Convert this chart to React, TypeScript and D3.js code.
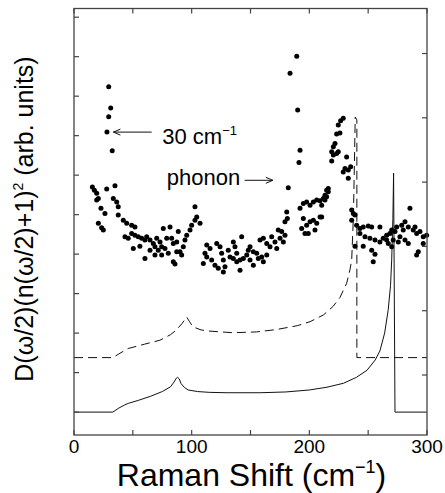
import React, { useEffect, useRef } from 'react';
import * as d3 from 'd3';

// measured spectrum: [Raman shift (cm-1), intensity (arb.)]
const measured: [number, number][] = [
  [29.5, 8.24], [31.2, 7.70], [29.5, 7.48], [28.0, 7.09], [32.5, 6.62],
  [15.6, 5.70], [17.3, 5.62], [19.3, 5.54], [20.7, 5.41], [27.8, 5.65], [34.8, 5.73],
  [19.3, 5.37], [22.9, 5.16], [26.3, 5.03], [20.7, 4.78], [23.5, 4.67], [24.9, 4.61],
  [33.4, 5.41], [36.3, 5.32], [37.6, 5.20], [37.6, 4.99], [41.9, 4.86], [44.8, 4.78],
  [49.0, 4.73], [51.8, 4.69], [43.3, 4.44], [46.1, 4.40], [49.0, 4.52], [51.8, 4.48],
  [54.6, 4.44], [57.5, 4.40], [60.3, 4.36], [61.8, 4.44], [64.6, 4.36], [67.4, 4.27],
  [68.8, 4.19], [70.3, 4.40], [73.1, 4.31], [71.6, 4.10], [74.5, 4.19], [77.3, 4.14],
  [75.9, 4.65], [81.6, 4.69], [78.8, 4.40], [83.0, 4.40], [84.4, 4.27], [87.3, 4.31],
  [88.6, 4.57], [90.1, 4.06], [91.5, 3.98], [92.9, 4.19], [94.3, 4.36], [95.8, 4.48],
  [98.6, 4.61], [100.0, 4.73], [102.8, 4.86], [104.3, 4.94], [102.8, 5.20], [107.1, 4.78],
  [50.4, 4.14], [60.3, 3.89], [84.4, 3.81], [68.8, 3.98], [64.6, 4.10], [74.5, 3.98],
  [80.1, 4.02], [87.3, 4.06], [85.8, 3.75], [56.0, 4.20],
  [112.8, 4.23], [111.3, 4.02], [109.9, 3.76], [115.6, 4.14], [112.8, 3.93], [117.0, 3.85],
  [119.8, 3.72], [122.6, 3.64], [121.3, 4.27], [124.1, 4.19], [125.5, 4.02], [126.9, 3.85],
  [128.3, 3.68], [131.1, 4.10], [132.6, 3.93], [135.4, 4.31], [136.8, 4.19], [138.3, 4.02],
  [141.1, 3.85], [143.9, 3.89], [142.5, 4.44], [146.8, 3.98], [148.1, 4.10], [149.6, 4.19],
  [152.4, 4.06], [155.3, 4.02], [156.6, 3.89], [159.5, 3.93], [160.9, 3.81], [158.1, 4.36],
  [160.9, 4.40], [163.8, 4.27], [166.6, 4.19], [168.0, 4.44], [170.8, 4.31], [172.3, 4.14],
  [175.1, 4.40], [176.5, 4.57], [173.6, 4.61], [177.9, 4.31], [179.3, 4.48], [152.4, 3.72],
  [149.6, 3.85], [138.3, 3.81], [135.4, 3.89], [163.8, 3.98], [126.9, 3.55], [141.1, 3.59],
  [189.3, 9.01], [183.6, 8.58], [190.1, 7.65], [192.1, 6.63], [191.2, 6.32], [182.1, 5.68],
  [180.8, 5.07], [179.3, 4.82], [181.3, 4.90],
  [192.1, 5.16], [194.9, 5.28], [197.7, 5.32], [200.6, 5.24], [203.4, 5.32], [206.3, 5.37],
  [209.1, 5.35], [211.9, 5.41], [213.3, 5.49], [214.7, 5.62], [216.1, 5.66], [194.9, 4.90],
  [193.5, 4.65], [197.7, 4.73], [200.6, 4.82], [203.4, 4.86], [206.3, 4.78], [209.1, 4.94],
  [199.1, 4.52], [204.8, 4.61], [196.3, 4.52],
  [228.8, 7.44], [226.6, 7.38], [224.6, 7.27], [226.0, 7.07], [223.2, 7.04], [221.8, 6.80],
  [220.4, 6.72], [219.0, 6.59], [220.4, 6.51], [219.0, 6.36], [223.2, 6.55], [224.6, 6.59],
  [231.7, 6.46], [230.3, 6.17], [228.8, 6.08], [233.1, 6.13], [233.1, 5.92], [235.1, 6.21],
  [216.1, 5.58], [214.7, 5.45], [213.3, 5.37], [210.5, 5.24], [210.5, 4.94],
  [236.0, 5.12], [237.4, 5.03], [236.0, 4.86], [238.8, 4.99], [240.2, 4.73], [238.8, 4.20],
  [243.0, 4.65], [245.8, 4.69], [250.1, 4.71], [253.0, 4.69], [260.0, 4.69], [243.0, 4.52],
  [247.3, 4.44], [251.5, 4.40], [255.8, 4.36], [260.0, 4.31], [262.8, 4.40], [265.7, 4.48],
  [268.5, 4.52], [270.0, 4.61], [272.8, 4.57], [274.2, 4.69], [278.5, 4.73], [279.8, 4.61],
  [284.1, 4.69], [285.5, 5.16], [288.3, 4.61], [291.2, 4.52], [294.0, 4.57], [296.8, 4.44],
  [299.7, 4.48], [296.8, 4.27], [292.6, 4.06], [291.2, 3.98], [277.0, 4.44], [281.3, 4.36],
  [284.1, 4.27], [267.1, 4.27], [270.0, 4.19], [245.8, 4.20], [253.0, 4.10], [255.8, 4.00],
  [254.3, 3.81], [265.7, 4.36], [271.3, 4.36], [275.6, 4.31], [281.3, 4.82], [289.8, 4.69],
];

// calculated curves (solid and dashed)
const theorySolid: [number, number][] = [
  [0, 0], [33, 0], [38, 0.1], [43, 0.18], [46, 0.22], [55, 0.3], [65, 0.4], [75, 0.52],
  [82, 0.64], [85, 0.76], [87, 0.86], [88, 0.88], [89.5, 0.84], [91, 0.72], [94, 0.62],
  [97, 0.56], [105, 0.52], [115, 0.5], [130, 0.49], [158, 0.49], [180, 0.51], [200, 0.56],
  [215, 0.63], [229, 0.73], [240, 0.88], [249, 1.06], [256, 1.32], [260, 1.55],
  [264, 2.0], [267, 2.58], [269, 3.2], [270, 3.85], [271, 4.9], [271.6, 6.05],
  [272.8, 0], [300, 0],
];

const theoryDashed: [number, number][] = [
  [0, 1.38], [33, 1.38], [38, 1.47], [43, 1.56], [46, 1.61], [60, 1.72], [73, 1.82],
  [82, 1.96], [87, 2.08], [92, 2.25], [95.7, 2.41], [98, 2.3], [101, 2.16], [108, 2.08],
  [115.6, 2.05], [135, 2.01], [155, 2.03], [172, 2.09], [190, 2.19], [200.6, 2.29],
  [212, 2.46], [220, 2.67], [226, 2.9], [231.7, 3.26], [234.5, 3.6], [236, 3.85],
  [237.5, 5.0], [238.3, 6.3], [239, 7.47], [240.4, 7.4], [240.4, 1.38], [300, 1.38],
];

const xTicks = [0, 50, 100, 150, 200, 250, 300];
const xTickLabels = [0, 100, 200, 300];
const leftTicks = [0, 1, 2, 3, 4, 5, 6, 7, 8, 9, 10];
const rightTicks = [1, 2, 3, 4, 5, 6];

const App = () => {
  const svgRef = useRef<SVGSVGElement>(null);

  useEffect(() => {
    const svg = d3.select(svgRef.current);
    svg.selectAll('*').remove();

    const left = 74, right = 427, top = 8.5, bottom = 435;
    const font = "'Liberation Sans', Arial, Helvetica, sans-serif";

    const x = d3.scaleLinear().domain([0, 300]).range([left, right]);
    const y = d3.scaleLinear().domain([-0.58, 10.22]).range([bottom, top]);
    const yRight = d3.scaleLinear().domain([0.067, 6.7]).range([bottom, top]);

    const line = d3.line<[number, number]>()
      .x(d => x(d[0]))
      .y(d => y(d[1]));

    // theory curves
    svg.append('path')
      .datum(theorySolid)
      .attr('d', line)
      .attr('fill', 'none')
      .attr('stroke', '#111')
      .attr('stroke-width', 1);

    svg.append('path')
      .datum(theoryDashed)
      .attr('d', line)
      .attr('fill', 'none')
      .attr('stroke', '#111')
      .attr('stroke-width', 1)
      .attr('stroke-dasharray', '9,5');

    // data points
    svg.append('g')
      .selectAll('circle')
      .data(measured)
      .enter()
      .append('circle')
      .attr('cx', d => x(d[0]))
      .attr('cy', d => y(d[1]))
      .attr('r', 2.5)
      .attr('fill', '#000');

    // frame
    svg.append('rect')
      .attr('x', left)
      .attr('y', top)
      .attr('width', right - left)
      .attr('height', bottom - top)
      .attr('fill', 'none')
      .attr('stroke', '#444')
      .attr('stroke-width', 1.3);

    const tickLen = 5;
    xTicks.forEach(t => {
      svg.append('line')
        .attr('x1', x(t)).attr('x2', x(t))
        .attr('y1', bottom).attr('y2', bottom - tickLen)
        .attr('stroke', '#444').attr('stroke-width', 1.2);
      svg.append('line')
        .attr('x1', x(t)).attr('x2', x(t))
        .attr('y1', top).attr('y2', top + tickLen)
        .attr('stroke', '#444').attr('stroke-width', 1.2);
    });
    leftTicks.forEach(t => {
      svg.append('line')
        .attr('x1', left).attr('x2', left + tickLen)
        .attr('y1', y(t)).attr('y2', y(t))
        .attr('stroke', '#444').attr('stroke-width', 1.2);
    });
    rightTicks.forEach(t => {
      svg.append('line')
        .attr('x1', right).attr('x2', right - tickLen)
        .attr('y1', yRight(t)).attr('y2', yRight(t))
        .attr('stroke', '#444').attr('stroke-width', 1.2);
    });

    xTickLabels.forEach(t => {
      svg.append('text')
        .attr('x', x(t))
        .attr('y', 453)
        .attr('text-anchor', 'middle')
        .style('font-family', font)
        .style('font-size', '19px')
        .text(t);
    });

    // x axis title
    const xt = svg.append('text')
      .attr('x', (left + right) / 2 + 1)
      .attr('y', 486)
      .attr('text-anchor', 'middle')
      .style('font-family', font)
      .style('font-size', '32px');
    xt.append('tspan').text('Raman Shift (cm');
    xt.append('tspan').attr('dy', -13).style('font-size', '18px').text('\u22121');
    xt.append('tspan').attr('dy', 13).text(')');

    // y axis title
    const yt = svg.append('text')
      .attr('transform', `translate(33, 219) rotate(-90)`)
      .attr('text-anchor', 'middle')
      .style('font-family', font)
      .style('font-size', '25px');
    yt.append('tspan').text('D(\u03c9/2)(n(\u03c9/2)+1)');
    yt.append('tspan').attr('dy', -10).style('font-size', '14px').text('2');
    yt.append('tspan').attr('dy', 10).text(' (arb. units)');

    // annotations
    const arrow = (x1: number, x2: number, yy: number) => {
      const dir = x2 > x1 ? -1 : 1;
      svg.append('path')
        .attr('d', `M${x1},${yy}L${x2},${yy}M${x2 + dir * 7},${yy - 3}L${x2},${yy}L${x2 + dir * 7},${yy + 3}`)
        .attr('fill', 'none')
        .attr('stroke', '#111')
        .attr('stroke-width', 1);
    };

    arrow(x(66), x(33.5), y(7.09));
    const a1 = svg.append('text')
      .attr('x', x(75))
      .attr('y', y(6.79))
      .style('font-family', font)
      .style('font-size', '22px');
    a1.append('tspan').text('30 cm');
    a1.append('tspan').attr('dy', -9).style('font-size', '13px').text('\u22121');

    svg.append('text')
      .attr('x', x(78.8))
      .attr('y', y(5.76))
      .style('font-family', font)
      .style('font-size', '22px')
      .text('phonon');
    arrow(x(145), x(169), y(5.87));
  }, []);

  return (
    <svg
      ref={svgRef}
      width={445}
      height={493}
      style={{ position: 'absolute', left: 0, top: 0, background: 'white' }}
    />
  );
};

export default App;
